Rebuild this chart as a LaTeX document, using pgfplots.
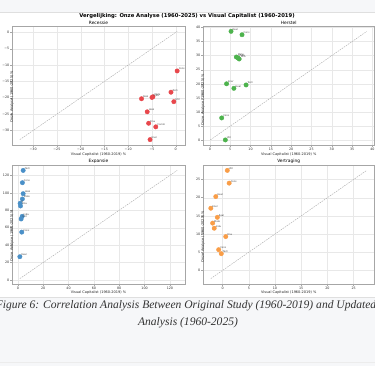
\documentclass[border=0pt]{standalone}
\usepackage{pgfplots}
\usepackage{pgfplotstable}
\pgfplotsset{compat=1.18}
\usepackage{fontspec}
\setmainfont{DejaVu Sans}
\newfontfamily\capfont{Liberation Serif}
\definecolor{pagebg}{HTML}{F6F7F9}
\definecolor{redc}{HTML}{E8474C}
\definecolor{greenc}{HTML}{4DB34D}
\definecolor{bluec}{HTML}{4A90C8}
\definecolor{orangec}{HTML}{F99D47}

\pgfplotstableread{
x y lab
0.3 -11.8 Cons
-1.0 -18.3 Tech
-0.4 -21.2 Util
-4.8 -19.7 Mate
-5.0 -19.9 Indu
-7.2 -20.3 Real
-6.0 -24.3 Heal
-5.7 -27.8 Fina
-4.2 -28.9 Comm
-5.4 -32.8 Ener
}\recessie
\pgfplotstableread{
x y lab
5.2 38.6 Real
7.9 37.4 Cons
6.5 29.5 Mate
6.9 29.2 Indu
7.2 28.8 Fina
4.1 20.0 Ener
5.9 18.4 Heal
8.9 19.6 Tech
2.9 7.9 Cons
3.8 0.1 Util
}\herstel
\pgfplotstableread{
x y lab
4.2 125.7 Tech
3.6 111.6 Cons
4.2 99.0 Heal
3.6 92.9 Mate
1.8 88.0 E
2.1 84.9 Fina
3.4 73.0 Indu
2.6 70.0 Util
3.1 54.9 Cons
1.6 26.7 Real
}\expansie
\pgfplotstableread{
x y lab
0.9 27.5 Util
1.25 24.0 Cons
-1.3 20.3 Heal
-2.25 17.1 Ener
-1.0 14.6 Real
-1.9 13.0 Mate
-1.6 11.6 Indu
0.6 9.3 Fina
-0.75 5.7 Cons
-0.25 4.6 Tech
}\vertraging

\pgfplotsset{
  panel/.style={
    scale only axis, anchor=south west,
    axis background/.style={fill=white},
    grid=major, grid style={line width=0.3bp, draw=gray!18},
    axis line style={draw=gray!70, line width=0.9bp},
    tick style={draw=gray!70, line width=0.4bp},
    tick align=outside, major tick length=1.6bp, tick pos=left,
    tick label style={font=\fontsize{3.3}{4}\selectfont, text=black!80},
    /pgf/number format/assume math mode=true,
    xticklabel style={inner sep=1bp},
    yticklabel style={inner sep=1bp},
    label style={font=\fontsize{3.5}{4}\selectfont, text=black!85},
    every axis title/.style={font=\fontsize{4.4}{5}\selectfont, at={(0.5,1)}, anchor=south, inner sep=0.6bp, yshift=0.4bp},
    xlabel={Visual Capitalist (1960-2019) \%},
    ylabel={Onze Analyse (1960-2025) \%},
    xlabel style={at={(axis description cs:0.5,0)}, anchor=center, yshift=-9.5bp},
  },
  pts/.style={only marks, mark=*, mark size=2.2bp, mark options={draw=#1, fill=#1},
    nodes near coords, point meta=explicit symbolic,
    every node near coord/.style={font=\fontsize{2.4}{3}\selectfont, anchor=south west, inner sep=0.2bp, xshift=1.2bp, yshift=0.6bp, text=black!75}},
  diag/.style={dashed, dash pattern=on 1.5bp off 1bp, draw=gray!70, line width=0.4bp},
}

\begin{document}
\begin{tikzpicture}
\useasboundingbox (0,0) rectangle (375bp,366bp);
\clip (0,0) rectangle (375bp,366bp);
\fill[pagebg] (0,0) rectangle (375bp,366bp);
\fill[white] (0,69bp) rectangle (375bp,354bp);
\draw[gray!25, line width=0.5bp] (0,354bp) -- (375bp,354bp);
\draw[gray!25, line width=0.5bp] (0,69bp) -- (375bp,69bp);
\draw[gray!15, line width=0.5bp] (0,4bp) -- (375bp,4bp);

\node[font=\bfseries\fontsize{5.3}{6}\selectfont] at (187bp,350bp) {Vergelijking: Onze Analyse (1960-2025) vs Visual Capitalist (1960-2019)};

% Recessie
\begin{axis}[panel, at={(12bp,221bp)}, width=173bp, height=119bp,
  title={Recessie},
  xmin=-34.45, xmax=1.95, ymin=-34.45, ymax=1.95,
  xtick={-30,-25,-20,-15,-10,-5,0},
  xticklabels={−30,−25,−20,−15,−10,−5,0},
  ytick={-30,-25,-20,-15,-10,-5,0},
  yticklabels={−30,−25,−20,−15,−10,−5,0},
  ylabel style={at={(axis description cs:0,0.5)}, anchor=center, xshift=-11bp}]
\addplot[diag] coordinates {(-32.8,-32.8) (0.3,0.3)};
\addplot[pts=redc] table[x=x, y=y, meta=lab] {\recessie};
\end{axis}

% Herstel
\begin{axis}[panel, at={(203bp,221bp)}, width=171.5bp, height=119bp,
  title={Herstel},
  xmin=-1.7, xmax=40.5, ymin=-1.7, ymax=40.5,
  xtick={0,5,...,40}, ytick={0,5,...,40},
  ylabel style={at={(axis description cs:0,0.5)}, anchor=center, xshift=-14bp}]
\addplot[diag] coordinates {(0.1,0.1) (38.6,38.6)};
\addplot[pts=greenc] table[x=x, y=y, meta=lab] {\herstel};
\end{axis}

% Expansie
\begin{axis}[panel, at={(12bp,82bp)}, width=173bp, height=119bp,
  title={Expansie},
  xmin=-4.6, xmax=131.9, ymin=-4.6, ymax=131.9,
  xtick={0,20,...,120}, ytick={0,20,...,120},
  xlabel style={yshift=0.8bp},
  ylabel style={at={(axis description cs:0,0.5)}, anchor=center, xshift=-11bp}]
\addplot[diag] coordinates {(1.6,1.6) (125.7,125.7)};
\addplot[pts=bluec] table[x=x, y=y, meta=lab] {\expansie};
\end{axis}

% Vertraging
\begin{axis}[panel, at={(203bp,82bp)}, width=171.5bp, height=119bp,
  title={Vertraging},
  xmin=-3.74, xmax=28.99, ymin=-3.74, ymax=28.99,
  xtick={0,5,...,25}, ytick={0,5,...,25},
  xlabel style={yshift=0.8bp},
  ylabel style={at={(axis description cs:0,0.5)}, anchor=center, xshift=-12bp}]
\addplot[diag] coordinates {(-2.25,-2.25) (27.5,27.5)};
\addplot[pts=orangec] table[x=x, y=y, meta=lab] {\vertraging};
\end{axis}

\node[anchor=base, font=\capfont\itshape\fontsize{11.6}{14}\selectfont, text=black!80] at (186bp,57.5bp) {Figure 6: Correlation Analysis Between Original Study (1960-2019) and Updated};
\node[anchor=base, font=\capfont\itshape\fontsize{11.6}{14}\selectfont, text=black!80] at (188bp,40.5bp) {Analysis (1960-2025)};
\end{tikzpicture}
\end{document}
